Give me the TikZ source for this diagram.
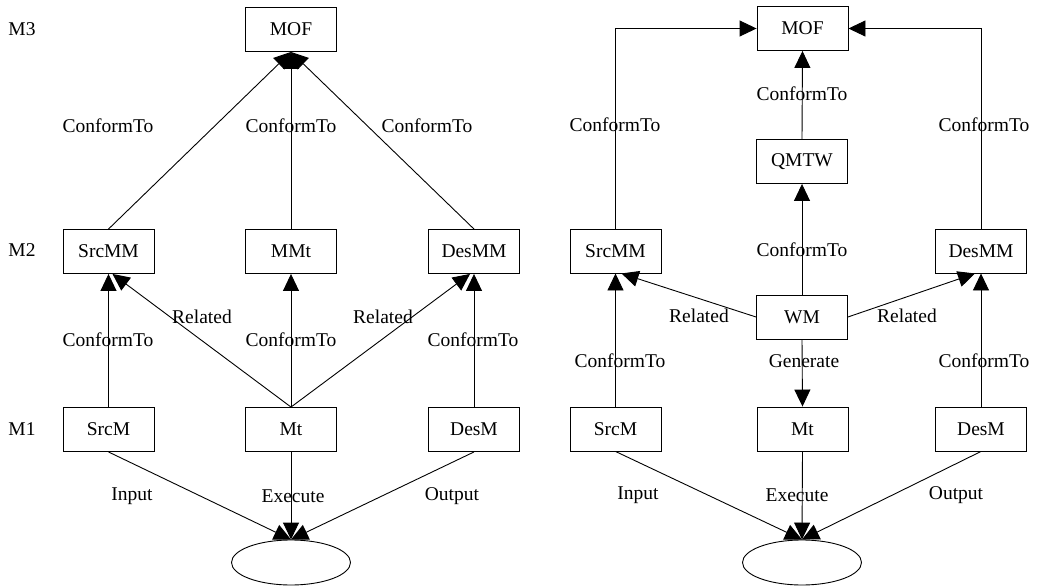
\documentclass[tikz,border=0pt]{standalone}
\usepackage{fontspec}
\setmainfont{Liberation Serif}
\usepackage{tikz}
\usetikzlibrary{arrows.meta, positioning, shapes.geometric}

\tikzset{
  mbox/.style={draw, rectangle, minimum width=91pt, minimum height=44pt, inner sep=0pt},
  mell/.style={draw, ellipse, minimum width=119pt, minimum height=45pt, inner sep=0pt},
  lbl/.style={inner sep=0pt},
  conn/.style={-{Triangle[length=17pt,width=16pt]}},
}

\begin{document}
\begin{tikzpicture}[x=1pt, y=-1pt, line width=0.9pt,
    every edge/.style={draw, conn},
    font=\fontsize{19.5}{23}\selectfont]
  \useasboundingbox (0,0) rectangle (1037,586);

  % level names
  \node[lbl] (m3) at (22,29) {M3};
  \node[lbl] (m2) at (22,250) {M2};
  \node[lbl] (m1) at (22,429) {M1};

  % left diagram
  \node[mbox] (lmof) at (291,29.5) {MOF};
  \node[mbox] (lsrcmm) at (108.5,251.5) {SrcMM};
  \node[mbox] (lmmt) at (291,251.5) {MMt};
  \node[mbox] (ldesmm) at (474,251.5) {DesMM};
  \node[mbox] (lsrcm) at (108.5,429.5) {SrcM};
  \node[mbox] (lmt) at (291,429.5) {Mt};
  \node[mbox] (ldesm) at (474,429.5) {DesM};
  \node[mell] (lrun) at (291,562.5) {};

  \node[lbl] (lc1) at (108,126) {ConformTo};
  \node[lbl] (lc2) at (291,126) {ConformTo};
  \node[lbl] (lc3) at (427,126) {ConformTo};
  \node[lbl] (lr1) at (202,317) {Related};
  \node[lbl] (lr2) at (383,317) {Related};
  \node[lbl] (lc4) at (108,340) {ConformTo};
  \node[lbl] (lc5) at (291,340) {ConformTo};
  \node[lbl] (lc6) at (473,340) {ConformTo};
  \node[lbl] (lin) at (132,496) {Input};
  \node[lbl] (lex) at (293,496) {Execute};
  \node[lbl] (lout) at (452,496) {Output};

  \path (lsrcmm.north) edge (lmof.south);
  \path (lmmt.north) edge (lmof.south);
  \path (ldesmm.north) edge (lmof.south);
  \path (lsrcm.north) edge (lsrcmm.south);
  \path (lmt.north) edge (lmmt.south);
  \path (ldesm.north) edge (ldesmm.south);
  \path (lmt.north) edge ([xshift=4pt]lsrcmm.south);
  \path (lmt.north) edge ([xshift=-4pt]ldesmm.south);
  \path (lsrcm.south) edge (lrun.north);
  \path (lmt.south) edge (lrun.north);
  \path (ldesm.south) edge (lrun.north);

  % right diagram
  \node[mbox] (rmof) at (802.5,28.5) {MOF};
  \node[mbox] (rqmtw) at (802,161.5) {QMTW};
  \node[mbox] (rsrcmm) at (615.5,251) {SrcMM};
  \node[mbox] (rdesmm) at (981,251) {DesMM};
  \node[mbox] (rwm) at (802,317) {WM};
  \node[mbox] (rsrcm) at (615.5,429) {SrcM};
  \node[mbox] (rmt) at (802.5,429) {Mt};
  \node[mbox] (rdesm) at (981,429) {DesM};
  \node[mell] (rrun) at (802,562.5) {};

  \node[lbl] (rc1) at (802,94) {ConformTo};
  \node[lbl] (rc2) at (615,125) {ConformTo};
  \node[lbl] (rc3) at (984,125) {ConformTo};
  \node[lbl] (rc4) at (802,250) {ConformTo};
  \node[lbl] (rr1) at (699,316) {Related};
  \node[lbl] (rr2) at (907,316) {Related};
  \node[lbl] (rc5) at (620,361) {ConformTo};
  \node[lbl] (rgen) at (804,361) {Generate};
  \node[lbl] (rc6) at (984,361) {ConformTo};
  \node[lbl] (rin) at (638,495) {Input};
  \node[lbl] (rex) at (797,495) {Execute};
  \node[lbl] (rout) at (956,495) {Output};

  \draw[conn] (rsrcmm.north) |- (rmof.west);
  \draw[conn] (rdesmm.north) |- (rmof.east);
  \path (rqmtw.north) edge (rmof.south);
  \path (rwm.north) edge (rqmtw.south);
  \path (rwm.west) edge ([xshift=6pt]rsrcmm.south);
  \path (rwm.east) edge ([xshift=-6pt]rdesmm.south);
  \path (rwm.south) edge (rmt.north);
  \path (rsrcm.north) edge (rsrcmm.south);
  \path (rdesm.north) edge (rdesmm.south);
  \path (rsrcm.south) edge (rrun.north);
  \path (rmt.south) edge (rrun.north);
  \path (rdesm.south) edge (rrun.north);
\end{tikzpicture}
\end{document}
